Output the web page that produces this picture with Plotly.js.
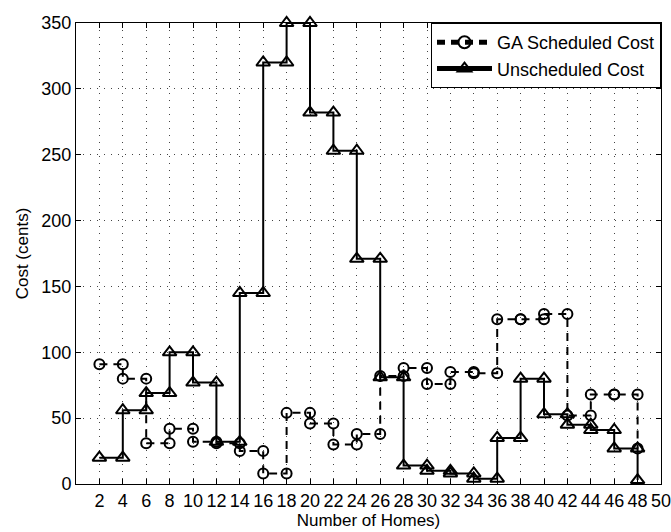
<!DOCTYPE html>
<html>
<head>
<meta charset="utf-8">
<script src="https://cdn.plot.ly/plotly-3.0.1.min.js"></script>
<style>html,body{margin:0;padding:0;background:#fff;}#chart{width:671px;height:532px;}</style>
</head>
<body>
<div id="chart"></div>
<script>
// Data
const homes = [2, 4, 6, 8, 10, 12, 14, 16, 18, 20, 22, 24, 26, 28, 30, 32, 34, 36, 38, 40, 42, 44, 46, 48];
const gaScheduledCost = [91, 80, 31, 42, 32, 31, 25, 8, 54, 46, 30, 38, 82, 88, 76, 85, 84, 125, 125, 129, 52, 68, 68, 27];
const unscheduledCost = [20, 56, 69, 100, 77, 32, 145, 320, 350, 282, 253, 171, 81, 14, 10, 8, 4, 35, 80, 53, 45, 41, 27, 3];
const xTickVals = [2, 4, 6, 8, 10, 12, 14, 16, 18, 20, 22, 24, 26, 28, 30, 32, 34, 36, 38, 40, 42, 44, 46, 48, 50];
const yTickVals = [0, 50, 100, 150, 200, 250, 300, 350];

// MATLAB-style stairs: vertices at (x_i, y_i) and (x_{i+1}, y_i)
function stairs(xs, ys) {
  const sx = [], sy = [];
  for (let i = 0; i < xs.length; i++) {
    sx.push(xs[i]); sy.push(ys[i]);
    if (i < xs.length - 1) { sx.push(xs[i + 1]); sy.push(ys[i]); }
  }
  return {x: sx, y: sy};
}

const ga = stairs(homes, gaScheduledCost);
const un = stairs(homes, unscheduledCost);

const fam = '"Liberation Sans", Arial, Helvetica, sans-serif';
const tickFont = {family: fam, size: 18, color: '#000'};
const titleFont = {family: fam, size: 17, color: '#000'};

const traces = [
  {
    x: ga.x, y: ga.y, name: 'GA Scheduled Cost', type: 'scatter', mode: 'lines+markers',
    line: {color: '#000', width: 2, dash: '8px,6px'},
    marker: {symbol: 'circle-open', size: 10, color: '#000', line: {width: 2, color: '#000'}},
    cliponaxis: false
  },
  {
    x: un.x, y: un.y, name: 'Unscheduled Cost', type: 'scatter', mode: 'lines+markers',
    line: {color: '#000', width: 2},
    marker: {symbol: 'triangle-up-open', size: 12, color: '#000', line: {width: 2, color: '#000'}},
    cliponaxis: false
  }
];

const layout = {
  width: 671, height: 532,
  margin: {l: 76, r: 10, t: 23, b: 48},
  paper_bgcolor: '#fff', plot_bgcolor: '#fff',
  font: tickFont,
  showlegend: true,
  legend: {
    x: 1, y: 1, xanchor: 'right', yanchor: 'top',
    bgcolor: '#fff', bordercolor: '#000', borderwidth: 1,
    font: {family: fam, size: 18, color: '#000'},
    itemwidth: 55, itemsizing: 'constant', tracegroupgap: 0
  },
  xaxis: {
    range: [0, 50], tickmode: 'array', tickvals: xTickVals,
    ticktext: xTickVals.map(String), ticklabeloverflow: 'allow',
    showline: true, linecolor: '#000', linewidth: 1, mirror: 'ticks',
    ticks: 'inside', ticklen: 5, tickcolor: '#000',
    showgrid: true, gridcolor: '#444', griddash: '1px,6px', gridwidth: 1,
    zeroline: false, tickfont: tickFont,
    title: {text: 'Number of Homes)', font: titleFont, standoff: 1}
  },
  yaxis: {
    range: [0, 350], tickmode: 'array', tickvals: yTickVals,
    showline: true, linecolor: '#000', linewidth: 1, mirror: 'ticks',
    ticks: 'inside', ticklen: 5, tickcolor: '#000',
    showgrid: true, gridcolor: '#444', griddash: '1px,6px', gridwidth: 1,
    zeroline: false, tickfont: tickFont,
    title: {text: 'Cost (cents)', font: titleFont, standoff: 8}
  }
};

Plotly.newPlot('chart', traces, layout, {displayModeBar: false, staticPlot: true});
</script>
</body>
</html>
